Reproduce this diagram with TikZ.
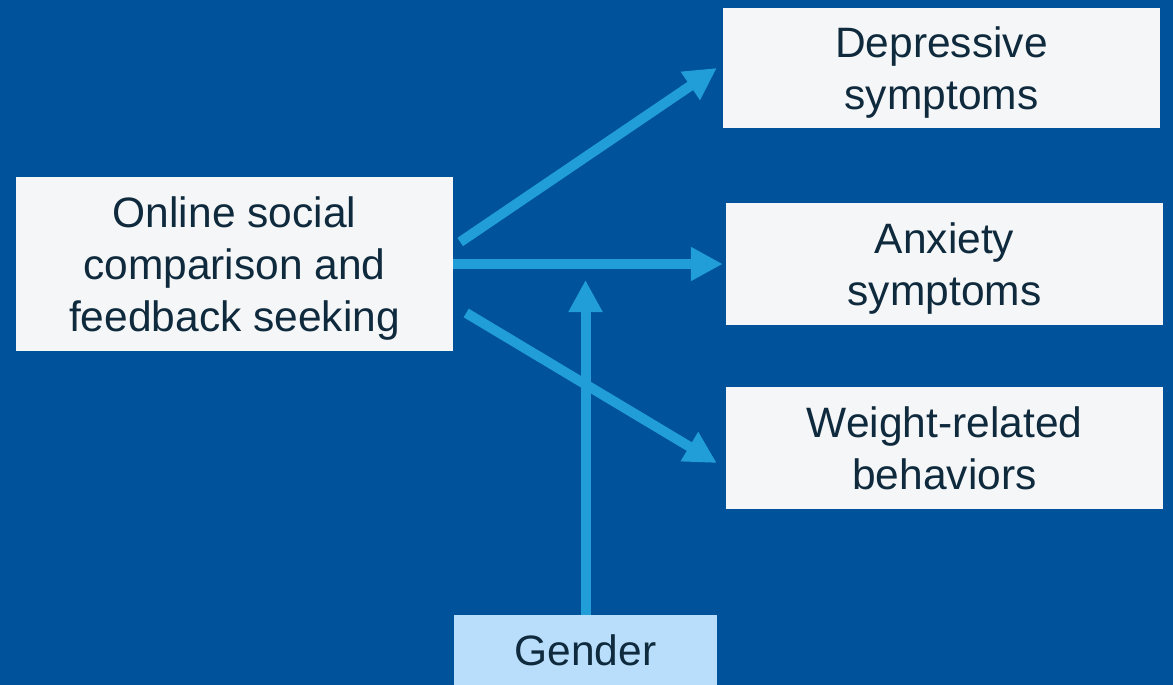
\documentclass[tikz,border=0pt]{standalone}
\usepackage{fontspec}
\setmainfont{Liberation Sans}
\usetikzlibrary{arrows.meta,calc}
\definecolor{bgblue}{HTML}{00529A}
\definecolor{arrowblue}{HTML}{219ED7}
\definecolor{boxwhite}{HTML}{F5F6F8}
\definecolor{genderfill}{HTML}{B9DEFC}
\definecolor{textdark}{HTML}{0F2A3D}
\tikzset{
  box/.style={fill=boxwhite, text=textdark, align=center, inner sep=0pt,
    text depth=-4pt,
    minimum width=437pt, font=\fontsize{42.5}{52}\selectfont},
  link/.style={arrowblue, line width=10pt, -{Triangle[length=32pt,width=32pt]}}
}
\begin{document}
\begin{tikzpicture}[x=1pt,y=-1pt]
\fill[bgblue] (0,0) rectangle (1173,685);
\useasboundingbox (0,0) rectangle (1173,685);
% boxes
\node[box, minimum height=174pt] (oscfs) at (234.5,264) {Online social\\comparison and\\feedback seeking};
\node[box, minimum height=120pt] (dep) at (941.5,68) {Depressive\\symptoms};
\node[box, minimum height=122pt] (anx) at (944.5,264) {Anxiety\\symptoms};
\node[box, minimum height=122pt] (wgt) at (944.5,448) {Weight-related\\behaviors};
\node[box, fill=genderfill, minimum width=263pt, minimum height=70pt] (gen) at (585.5,650) {Gender};
% arrows
\draw[link] ($(oscfs.east)+(7,-22)$) -- ($(dep.west)+(-6,0)$);
\draw[link] (oscfs.east) -- ($(anx.west)+(-3,0)$);
\draw[link] ($(oscfs.east)+(13,49)$) -- ($(wgt.west)+(-9,15)$);
\coordinate (mod) at (585.5,280);
\draw[link] (gen.north) -- (mod);
\end{tikzpicture}
\end{document}
